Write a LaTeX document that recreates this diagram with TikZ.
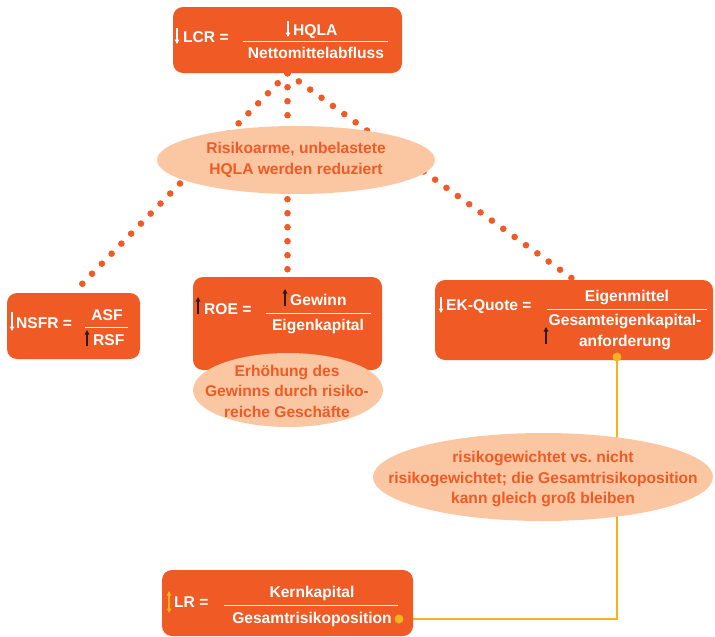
\documentclass[tikz,border=0pt]{standalone}
\usepackage{fontspec}
\setmainfont{Liberation Sans}
\usetikzlibrary{arrows.meta,shapes.geometric}
\definecolor{boxorange}{RGB}{240,90,36}
\definecolor{softorange}{RGB}{251,199,163}
\definecolor{linkyellow}{RGB}{248,178,30}
\definecolor{arrowdark}{RGB}{45,28,20}
\pgfdeclarelayer{background}
\pgfsetlayers{background,main}
\frenchspacing

\tikzset{
  ratiobox/.style={rectangle, fill=boxorange, rounded corners=10pt, draw=none, inner sep=0pt},
  boxtext/.style={text=white, font=\bfseries\fontsize{15.6}{18}\selectfont, inner sep=0pt},
  noteshape/.style={ellipse, fill=softorange, draw=none, inner sep=0pt},
  notetext/.style={text=boxorange, font=\bfseries\fontsize{15.6}{20.5}\selectfont, align=center, inner sep=0pt},
  fracline/.style={white, line width=1pt},
  dotlink/.style={boxorange, line width=6.6pt, line cap=round, dash pattern=on 0pt off 14pt},
  yellowlink/.style={linkyellow, line width=2pt},
  linkdot/.style={fill=linkyellow},
  downarrow/.style={line width=1.5pt, -{Triangle[length=4.5pt,width=4.6pt]}},
  bothways/.style={line width=1.5pt, {Triangle[length=4.5pt,width=4.6pt]}-{Triangle[length=4.5pt,width=4.6pt]}},
}

\begin{document}
\begin{tikzpicture}[x=1pt,y=-1pt]
\useasboundingbox (0,0) rectangle (715,637);

% ratio boxes
\node[ratiobox, minimum width=229pt, minimum height=66pt] (lcr) at (287.5,40) {};
\node[ratiobox, minimum width=133pt, minimum height=66pt] (nsfr) at (73.5,326) {};
\node[ratiobox, minimum width=189pt, minimum height=93pt] (roe) at (287.5,323.5) {};
\node[ratiobox, minimum width=278pt, minimum height=80pt] (ek) at (574,320) {};
\node[ratiobox, minimum width=251pt, minimum height=66pt] (lr) at (287.5,603) {};

% comment ellipses
\node[noteshape, minimum width=278pt, minimum height=68pt] (hqlaNote) at (296,160) {};
\node[notetext] (hqlaText) at (hqlaNote.center) {Risikoarme, unbelastete\\HQLA werden reduziert};
\node[noteshape, minimum width=190pt, minimum height=74pt] (gainNote) at (288,390) {};
\node[notetext] (gainText) at (287,391) {Erhöhung des\\Gewinns durch risiko-\\reiche Geschäfte};
\node[noteshape, minimum width=340pt, minimum height=88pt] (riskNote) at (543,477) {};
\node[notetext] (riskText) at (543,479) {risikogewichtet vs. nicht\\risikogewichtet; die Gesamtrisikoposition\\kann gleich groß bleiben};

% LCR
\draw[white, downarrow] (177,28) -- (177,44);
\node[boxtext, anchor=base west] (lcrLabel) at (183,42) {LCR =};
\draw[white, downarrow] (288,21) -- (288,37);
\node[boxtext, anchor=base west] (lcrNum) at (293,35) {HQLA};
\draw[fracline] (243,41) -- (388,41);
\node[boxtext, anchor=base] (lcrDen) at (316,58) {Nettomittelabfluss};

% NSFR
\draw[white, downarrow] (12,312) -- (12,331);
\node[boxtext, anchor=base west] (nsfrLabel) at (16,328) {NSFR =};
\node[boxtext, anchor=base] (nsfrNum) at (107,320) {ASF};
\draw[fracline] (85,327) -- (128,327);
\draw[arrowdark, downarrow] (87,346) -- (87,330);
\node[boxtext, anchor=base west] (nsfrDen) at (93,345) {RSF};

% ROE
\draw[arrowdark, downarrow] (198,314) -- (198,297);
\node[boxtext, anchor=base west] (roeLabel) at (204,314) {ROE =};
\draw[arrowdark, downarrow] (285,306) -- (285,289);
\node[boxtext, anchor=base west] (roeNum) at (290,305) {Gewinn};
\draw[fracline] (266,313) -- (371,313);
\node[boxtext, anchor=base] (roeDen) at (318,330) {Eigenkapital};

% EK-Quote
\draw[white, downarrow] (441,297) -- (441,313);
\node[boxtext, anchor=base west] (ekLabel) at (446,310) {EK-Quote =};
\node[boxtext, anchor=base] (ekNum) at (627,301) {Eigenmittel};
\draw[fracline] (547,309) -- (707,309);
\node[boxtext, anchor=base] (ekDen1) at (625,325) {Gesamteigenkapital-};
\node[boxtext, anchor=base] (ekDen2) at (625,346) {anforderung};
\draw[arrowdark, downarrow] (546,344) -- (546,327);

% LR
\draw[linkyellow, bothways] (169,591) -- (169,613);
\node[boxtext, anchor=base west] (lrLabel) at (174,607) {LR =};
\node[boxtext, anchor=base] (lrNum) at (312,597) {Kernkapital};
\draw[fracline] (224,605) -- (398,605);
\node[boxtext, anchor=base] (lrDen) at (312,623) {Gesamtrisikoposition};

% connector end points
\coordinate (ekDot) at (617,357);
\coordinate (lrDot) at (399,619);

\begin{pgfonlayer}{background}
  \draw[dotlink] (lcr.south) -- (nsfr.north);
  \draw[dotlink] (lcr.south) -- (roe.north);
  \draw[dotlink] (lcr.south) -- (ek.north);
  \draw[yellowlink] (ekDot) |- (lrDot);
\end{pgfonlayer}
\fill[linkdot] (ekDot) circle (4.5pt);
\fill[linkdot] (lrDot) circle (4.5pt);
\end{tikzpicture}
\end{document}
